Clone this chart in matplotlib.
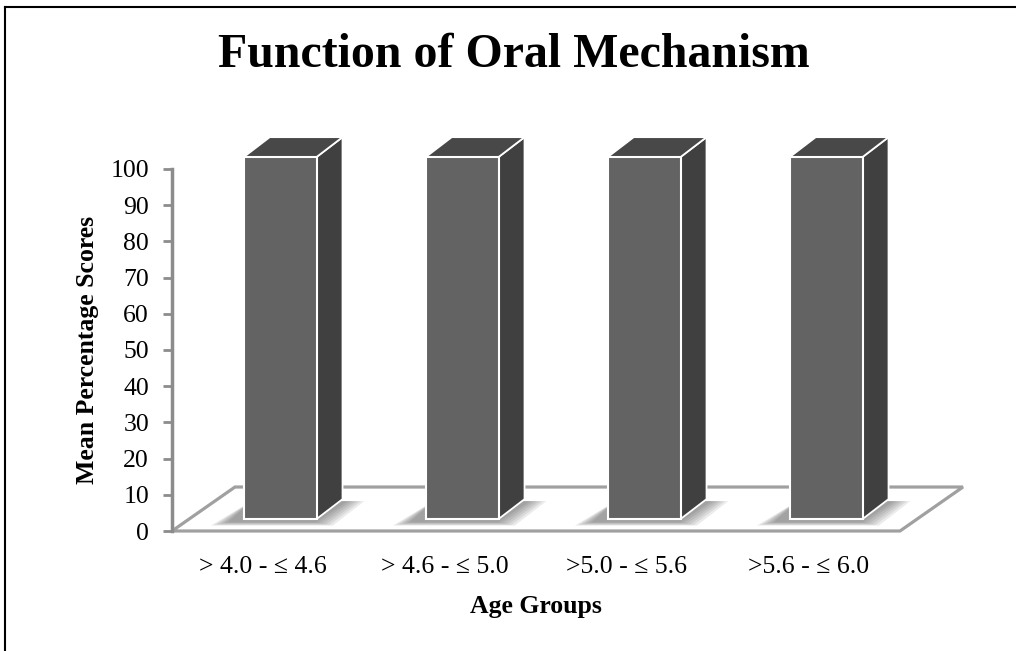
import matplotlib
matplotlib.use('Agg')
import matplotlib.pyplot as plt
from matplotlib.patches import Polygon
from matplotlib.lines import Line2D

groups = ['> 4.0 - \u2264 4.6', '> 4.6 - \u2264 5.0', '>5.0 - \u2264 5.6', '>5.6 - \u2264 6.0']
scores = [100, 100, 100, 100]
yticks = list(range(0, 101, 10))

serif = ['Liberation Serif', 'DejaVu Serif']
plt.rcParams['font.family'] = serif

# 3D look: floor depth and bar depth in data units (categories, percent)
floor_dx, floor_dy = 0.346, 12.15
bar_off_dx, bar_off_dy = 0.094, 3.3
side_dx, side_dy = 0.143, 5.5
bar_w = 0.40

front_col = '#636363'
side_col = '#404040'
top_col = '#484848'
grid_col = '#a0a0a0'

fig = plt.figure(figsize=(10.16, 6.51), dpi=100)
W, H = 1016, 651
ax_l, ax_r, ax_b, ax_t = 172, 990, 531, 110
ax = fig.add_axes([ax_l / W, (H - ax_b) / H, (ax_r - ax_l) / W, (ax_b - ax_t) / H])
ax.set_xlim(0, (ax_r - ax_l) / 182.0)
ax.set_ylim(0, (ax_b - ax_t) / 3.62)

n = len(groups)

# floor outline
floor = [(0, 0), (floor_dx, floor_dy), (n + floor_dx, floor_dy), (n, 0)]
ax.add_patch(Polygon(floor, closed=True, facecolor='white', edgecolor=grid_col,
                     linewidth=2.3, zorder=1, clip_on=False))

for i, v in enumerate(scores):
    x0 = i + 0.5 - bar_w / 2 + bar_off_dx
    x1 = x0 + bar_w
    y0 = bar_off_dy
    y1 = y0 + v
    # soft shadow on the floor, stacked from wide/faint to tight/dark
    for k in range(6):
        g = 0.018 * (5 - k)
        shadow = [(x0 - 0.09 - g, y0 - 0.9 - g * 10), (x1 + 0.0 + g, y0 - 0.9 - g * 10),
                  (x1 + side_dx + 0.03 + g, y0 + side_dy * 0.9), (x0 + side_dx * 0.3, y0 + side_dy * 0.9)]
        ax.add_patch(Polygon(shadow, closed=True, facecolor='#404040', edgecolor='none',
                             alpha=0.1, zorder=2, clip_on=False))
    side = [(x1, y0), (x1 + side_dx, y0 + side_dy), (x1 + side_dx, y1 + side_dy), (x1, y1)]
    top = [(x0, y1), (x0 + side_dx, y1 + side_dy), (x1 + side_dx, y1 + side_dy), (x1, y1)]
    front = [(x0, y0), (x1, y0), (x1, y1), (x0, y1)]
    ax.add_patch(Polygon(side, closed=True, facecolor=side_col, edgecolor='white',
                         linewidth=1.3, zorder=3, clip_on=False))
    ax.add_patch(Polygon(top, closed=True, facecolor=top_col, edgecolor='white',
                         linewidth=1.3, zorder=3, clip_on=False))
    ax.add_patch(Polygon(front, closed=True, facecolor=front_col, edgecolor='white',
                         linewidth=1.5, zorder=4, clip_on=False))

for s in ['top', 'right', 'bottom']:
    ax.spines[s].set_visible(False)
ax.spines['left'].set_bounds(0, 100)
ax.spines['left'].set_color('#8c8c8c')
ax.spines['left'].set_linewidth(2.5)
ax.spines['left'].set_zorder(5)

ax.set_yticks(yticks)
ax.set_yticklabels([str(t) for t in yticks], fontsize=18.5)
ax.tick_params(axis='y', length=6.5, width=2, color='#8c8c8c', pad=10)
ax.set_xticks([i + 0.5 for i in range(n)])
ax.set_xticklabels(groups, fontsize=18.5)
ax.tick_params(axis='x', length=0, pad=18)

fig.text(514 / W, 1 - 55 / H, 'Function of Oral Mechanism', ha='center', va='center',
         fontsize=34.5, fontweight='bold')
fig.text(88 / W, 1 - 350 / H, 'Mean Percentage Scores', ha='center', va='center',
         rotation=90, fontsize=18.5, fontweight='bold')
fig.text(536 / W, 1 - 606 / H, 'Age Groups', ha='center', va='center',
         fontsize=18.5, fontweight='bold')

# frame lines along the top and left edge
fig.add_artist(Line2D([5 / W, 5 / W], [0, 1 - 7 / H], color='black', linewidth=1.5))
fig.add_artist(Line2D([5 / W, 1], [1 - 7 / H, 1 - 7 / H], color='black', linewidth=1.5))

fig.savefig('out.png', dpi=100)
